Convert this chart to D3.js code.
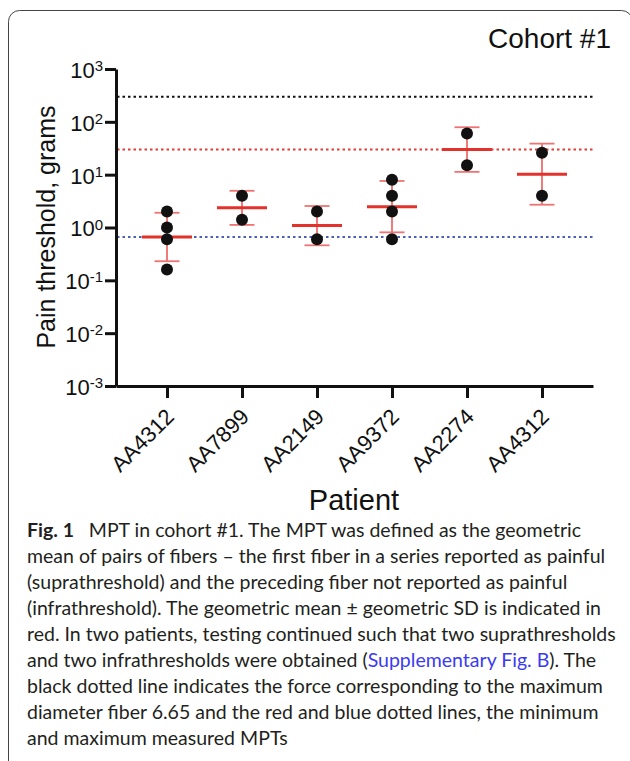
<!DOCTYPE html>
<html>
<head>
<meta charset="utf-8">
<script src="https://cdn.jsdelivr.net/npm/d3@7"></script>
<style>
  body { margin: 0; background: #fff; }
  svg { display: block; }
</style>
</head>
<body>
<svg id="chart" width="630" height="761"></svg>
<script>
// Patients on the x axis (AA4312 appears twice in the source figure)
const patients = ["AA4312", "AA7899", "AA2149", "AA9372", "AA2274", "AA4312"];

// individual MPT values per patient, grams
const mptValues = [
  [2.0, 1.0, 0.6, 0.16],
  [4.0, 1.4],
  [2.0, 0.6],
  [8.0, 4.0, 2.0, 0.6],
  [60, 15],
  [26, 4.0]
];

// geometric mean and mean / GSD, mean * GSD
const geoMean = [0.66, 2.37, 1.09, 2.48, 30, 10.2];
const gsdLow  = [0.23, 1.12, 0.46, 0.81, 11.3, 2.7];
const gsdHigh = [1.9, 4.95, 2.55, 7.6, 79, 38.7];

// dotted reference lines: max diameter fiber, max and min measured MPT
const refValues = [300, 30, 0.66];
const refColors = ["#111111", "#e53a35", "#4b5fb8"];

const yTicks = [1e-3, 1e-2, 1e-1, 1e0, 1e1, 1e2, 1e3];

const caption = [
  [["b", "Fig. 1"], ["n", "\u2002 MPT in cohort #1. The MPT was defined as the geometric"]],
  [["n", "mean of pairs of fibers \u2013 the first fiber in a series reported as painful"]],
  [["n", "(suprathreshold) and the preceding fiber not reported as painful"]],
  [["n", "(infrathreshold). The geometric mean \u00b1 geometric SD is indicated in"]],
  [["n", "red. In two patients, testing continued such that two suprathresholds"]],
  [["n", "and two infrathresholds were obtained ("], ["l", "Supplementary Fig. B"], ["n", "). The"]],
  [["n", "black dotted line indicates the force corresponding to the maximum"]],
  [["n", "diameter fiber 6.65 and the red and blue dotted lines, the minimum"]],
  [["n", "and maximum measured MPTs"]]
];

const svg = d3.select("#chart");

// panel frame
svg.append("rect")
  .attr("x", 8.5).attr("y", 10.5)
  .attr("width", 624).attr("height", 800)
  .attr("rx", 11)
  .attr("fill", "none")
  .attr("stroke", "#444")
  .attr("stroke-width", 1);

const x = d3.scalePoint()
  .domain(d3.range(patients.length))
  .range([116, 593])
  .padding(0.68);

const y = d3.scaleLog()
  .domain([1e-3, 1e3])
  .range([386, 69]);

const font = "'Liberation Sans', Arial, Helvetica, sans-serif";

// reference lines
svg.append("g")
  .selectAll("line")
  .data(refValues)
  .join("line")
  .attr("x1", 117).attr("x2", 593)
  .attr("y1", d => y(d)).attr("y2", d => y(d))
  .attr("stroke", (d, i) => refColors[i])
  .attr("stroke-width", 2)
  .attr("stroke-dasharray", "2.5,3");

// y axis
const yAxis = svg.append("g")
  .attr("transform", "translate(116,0)")
  .call(d3.axisLeft(y).tickValues(yTicks).tickFormat("").tickSize(11).tickSizeOuter(0));
yAxis.select(".domain").attr("stroke", "#111").attr("stroke-width", 3);
yAxis.selectAll(".tick line").attr("stroke", "#111").attr("stroke-width", 3);
yAxis.selectAll(".tick").append("text")
  .attr("x", -13).attr("dy", "0.38em")
  .attr("text-anchor", "end")
  .attr("fill", "#111")
  .style("font-family", font)
  .style("font-size", "22px")
  .each(function(d) {
    const t = d3.select(this);
    t.append("tspan").text("10");
    t.append("tspan")
      .attr("dy", "-0.45em")
      .style("font-size", "15px")
      .text(Math.round(Math.log10(d)));
  });

// x axis
const xAxis = svg.append("g")
  .attr("transform", "translate(0,386)")
  .call(d3.axisBottom(x).tickFormat(i => patients[i]).tickSize(12).tickSizeOuter(0));
xAxis.select(".domain").attr("stroke", "#111").attr("stroke-width", 3);
xAxis.selectAll(".tick line").attr("stroke", "#111").attr("stroke-width", 3);
xAxis.selectAll(".tick text")
  .attr("y", 0).attr("dy", 0)
  .attr("transform", "translate(8,32) rotate(-45)")
  .attr("text-anchor", "end")
  .attr("fill", "#111")
  .style("font-family", font)
  .style("font-size", "22px");

// error bars (geometric mean ± geometric SD)
const bars = svg.append("g")
  .selectAll("g")
  .data(d3.range(patients.length))
  .join("g");

bars.append("line")
  .attr("x1", i => x(i)).attr("x2", i => x(i))
  .attr("y1", i => y(gsdLow[i])).attr("y2", i => y(gsdHigh[i]))
  .attr("stroke", "#ec5a5a")
  .attr("stroke-width", 1.6);

bars.selectAll(".cap")
  .data(i => [gsdLow[i], gsdHigh[i]].map(v => ({i, v})))
  .join("line")
  .attr("class", "cap")
  .attr("x1", d => x(d.i) - 12.5).attr("x2", d => x(d.i) + 12.5)
  .attr("y1", d => y(d.v)).attr("y2", d => y(d.v))
  .attr("stroke", "#ef7373")
  .attr("stroke-width", 1.8);

bars.append("line")
  .attr("x1", i => x(i) - 25).attr("x2", i => x(i) + 25)
  .attr("y1", i => y(geoMean[i])).attr("y2", i => y(geoMean[i]))
  .attr("stroke", "#e3322c")
  .attr("stroke-width", 3);

// individual values
svg.append("g")
  .selectAll("circle")
  .data(mptValues.flatMap((vals, i) => vals.map(v => ({i, v}))))
  .join("circle")
  .attr("cx", d => x(d.i))
  .attr("cy", d => y(d.v))
  .attr("r", 6)
  .attr("fill", "#111");

// axis titles
svg.append("text")
  .attr("transform", "translate(55,227) rotate(-90)")
  .attr("text-anchor", "middle")
  .attr("fill", "#111")
  .style("font-family", font)
  .style("font-size", "25px")
  .text("Pain threshold, grams");

svg.append("text")
  .attr("x", 354).attr("y", 510)
  .attr("text-anchor", "middle")
  .attr("fill", "#111")
  .style("font-family", font)
  .style("font-size", "29px")
  .text("Patient");

svg.append("text")
  .attr("x", 611).attr("y", 48)
  .attr("text-anchor", "end")
  .attr("fill", "#111")
  .style("font-family", font)
  .style("font-size", "28px")
  .text("Cohort #1");

// caption
const cap = svg.append("g")
  .style("font-family", "Lato, 'Open Sans', sans-serif")
  .style("font-size", "18.5px")
  .attr("fill", "#231f20");

const capLines = cap.selectAll("text")
  .data(caption)
  .join("text")
  .attr("x", 27)
  .attr("y", (d, i) => 537 + i * 26);

capLines.selectAll("tspan")
  .data(d => d)
  .join("tspan")
  .style("font-weight", d => d[0] === "b" ? "bold" : "normal")
  .attr("fill", d => d[0] === "l" ? "#3b3bf0" : "#231f20")
  .text(d => d[1]);

// squeeze the caption horizontally so the longest line fits the panel
const natural = capLines.nodes()[4].getComputedTextLength();
const sx = (616 - 27) / natural;
cap.attr("transform", `translate(${27 * (1 - sx)},0) scale(${sx},1)`);
</script>
</body>
</html>
